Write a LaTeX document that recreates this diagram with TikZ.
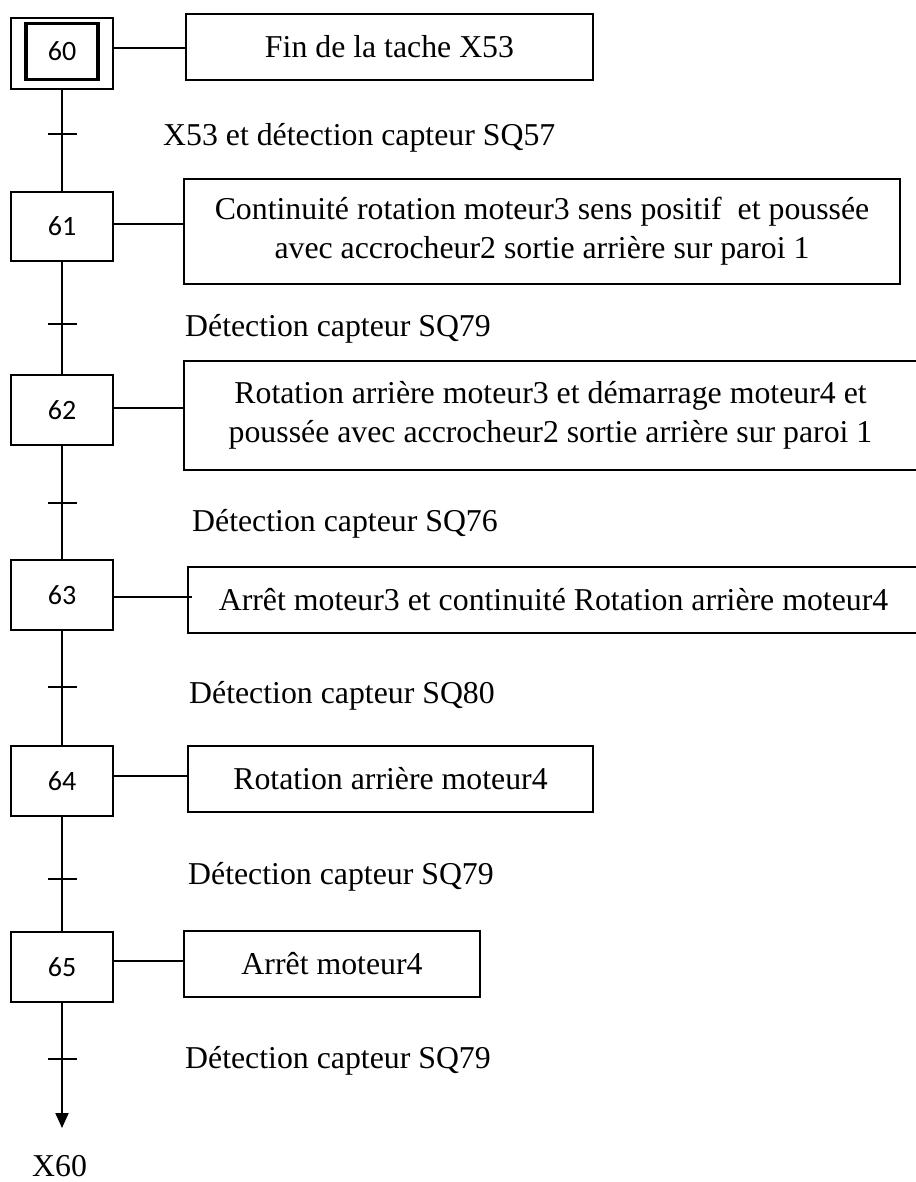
\documentclass[tikz,border=0pt]{standalone}
\usepackage{fontspec}
\setmainfont{Liberation Serif}
\newfontfamily\numfont{Carlito}
\usetikzlibrary{arrows.meta}
\begin{document}
\begin{tikzpicture}[x=1pt,y=-1pt,
  stepbox/.style={draw,line width=2.2pt,minimum width=102pt,minimum height=70pt,inner sep=0pt,font=\numfont\fontsize{28}{30}\selectfont},
  actbox/.style={draw,line width=2pt,inner sep=0pt,align=center,font=\fontsize{31.8}{39}\selectfont},
  link/.style={line width=2pt},
  tick/.style={line width=2pt},
  cond/.style={anchor=base west,inner sep=0pt,font=\fontsize{31.8}{39}\selectfont}]
\useasboundingbox (0,0) rectangle (915,1182);
% steps
\node[stepbox,minimum height=71pt] (s60) at (62,53.5) {};
\node[draw,line width=3.5pt,minimum width=72pt,minimum height=56pt,inner sep=0pt,font=\numfont\fontsize{28}{30}\selectfont] (s60i) at (62,51.5) {60};
\node[stepbox,minimum height=69pt] (s61) at (62,226.5) {61};
\node[stepbox] (s62) at (62,410) {62};
\node[stepbox] (s63) at (62,595) {63};
\node[stepbox] (s64) at (62,781) {64};
\node[stepbox] (s65) at (62,967) {65};
% actions
\node[actbox,minimum width=407pt,minimum height=66pt] (a60) at (389.5,47) {Fin de la tache X53};
\node[actbox,minimum width=716pt,minimum height=105pt] (a61) at (542,231.5) {Continuité rotation moteur3 sens positif\ \ et poussée\\avec accrocheur2 sortie arrière sur paroi 1};
\node[actbox,minimum width=733pt,minimum height=109pt] (a62) at (550.5,415.5) {Rotation arrière moteur3 et démarrage moteur4 et\\poussée avec accrocheur2 sortie arrière sur paroi 1};
\node[actbox,minimum width=731pt,minimum height=66pt] (a63) at (553.5,600) {Arrêt moteur3 et continuité Rotation arrière moteur4};
\node[actbox,minimum width=405pt,minimum height=66pt] (a64) at (390.5,779) {Rotation arrière moteur4};
\node[actbox,minimum width=296pt,minimum height=66pt] (a65) at (332,964) {Arrêt moteur4};
% step-action links
\draw[link] (s60.east |- 0,48) -- (a60.west |- 0,48);
\draw[link] (s61.east |- 0,224) -- (a61.west |- 0,224);
\draw[link] (s62.east |- 0,408) -- (a62.west |- 0,408);
\draw[link] (s63.east |- 0,597) -- (192,597);
\draw[link] (s64.east |- 0,776) -- (a64.west |- 0,776);
\draw[link] (s65.east |- 0,961) -- (a65.west |- 0,961);
% vertical links
\draw[link] (s60.south) -- (s61.north);
\draw[link] (s61.south) -- (s62.north);
\draw[link] (s62.south) -- (s63.north);
\draw[link] (s63.south) -- (s64.north);
\draw[link] (s64.south) -- (s65.north);
\coordinate (end) at (62,1128);
\draw[link,-{Triangle[width=13pt,length=15pt]}] (s65.south) -- (end);
% transitions
\foreach \y in {134,324,503,687,879,1059}{\draw[tick] (48,\y) -- (77,\y);}
\node[cond] (c1) at (163,146) {X53 et détection capteur SQ57};
\node[cond] (c2) at (185,336) {Détection capteur SQ79};
\node[cond] (c3) at (192,531) {Détection capteur SQ76};
\node[cond] (c4) at (189,703) {Détection capteur SQ80};
\node[cond] (c5) at (188,884) {Détection capteur SQ79};
\node[cond] (c6) at (185,1068) {Détection capteur SQ79};
\node[cond] (x60) at (32,1176) {X60};
\end{tikzpicture}
\end{document}
